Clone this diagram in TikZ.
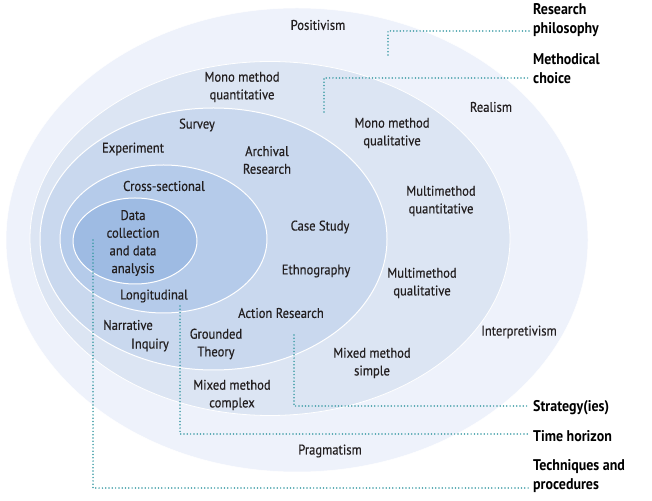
\documentclass[tikz,border=0pt]{standalone}
\usepackage{fontspec}
\setmainfont{PT Sans}[FakeStretch=0.9, UprightFeatures={FakeBold=0.4}]
\definecolor{c1}{HTML}{EEF2FB}
\definecolor{c2}{HTML}{DCE5F3}
\definecolor{c3}{HTML}{C9D8EE}
\definecolor{c4}{HTML}{B5CBEA}
\definecolor{c5}{HTML}{9EBBE3}
\definecolor{txt}{HTML}{231F20}
\definecolor{teal1}{HTML}{3C9CA5}
\begin{document}
\begin{tikzpicture}[x=1pt,y=1pt,
  lbl/.style={font=\fontsize{14}{17.7}\selectfont, text=txt, align=center, inner sep=0pt},
  head/.style={font=\fontsize{15.5}{18.5}\selectfont\bfseries, text=black, align=left, anchor=west, inner sep=0pt},
  dots/.style={draw=teal1, line width=1.7pt, line cap=round, dash pattern=on 0pt off 3.3pt},
  ring/.style={draw=white, line width=1pt}]
\useasboundingbox (0,0) rectangle (652,500);
% onion layers
\path[fill=c1, draw=white, line width=0.5pt] (297,260) ellipse [x radius=291, y radius=232];
\path[fill=c2, draw=white, line width=0.8pt] (270,261.5) ellipse [x radius=240, y radius=177];
\path[fill=c3, ring] (213.5,261) ellipse [x radius=173.5, y radius=131];
\path[fill=c4, ring] (163.5,261) ellipse [x radius=103.5, y radius=74];
\path[fill=c5, ring] (135,259) ellipse [x radius=62, y radius=43];
% ring labels
\node[lbl] (pos) at (318,475) {Positivism};
\node[lbl] (real) at (491,393) {Realism};
\node[lbl] (interp) at (519,168) {Interpretivism};
\node[lbl] (prag) at (330,49) {Pragmatism};
\node[lbl] (mmqn) at (242,413) {Mono method\\quantitative};
\node[lbl] (mmql) at (392,367) {Mono method\\qualitative};
\node[lbl] (mtqn) at (441,299) {Multimethod\\quantitative};
\node[lbl] (mtql) at (422,217) {Multimethod\\qualitative};
\node[lbl] (mxs) at (372,137) {Mixed method\\simple};
\node[lbl] (mxc) at (232,105) {Mixed method\\complex};
\node[lbl] (surv) at (197,375) {Survey};
\node[lbl] (exp) at (133,351) {Experiment};
\node[lbl] (arch) at (267,340) {Archival\\Research};
\node[lbl] (case) at (320,273) {Case Study};
\node[lbl] (eth) at (316,229) {Ethnography};
\node[lbl] (act) at (281,187) {Action Research};
\node[lbl] (narr) at (128,175) {Narrative};
\node[lbl] (inq) at (150,155) {Inquiry};
\node[lbl] (grd) at (216,156) {Grounded\\Theory};
\node[lbl] (cross) at (164,314) {Cross-sectional};
\node[lbl] (long) at (154,204) {Longitudinal};
\node[lbl] (data) at (133,257) {Data\\collection\\and data\\analysis};
% layer names
\node[head] (rp) at (533,480) {Research\\philosophy};
\node[head] (mc) at (533,431.5) {Methodical\\choice};
\node[head] (st) at (533,92) {Strategy(ies)};
\node[head] (th) at (533,64) {Time horizon};
\node[head] (tp) at (533,24) {Techniques and\\procedures};
% connectors
\coordinate (rpS) at (388,445); \coordinate (rpE) at (529,469);
\coordinate (mcS) at (324,388); \coordinate (mcE) at (529,422);
\coordinate (stS) at (294,165); \coordinate (stE) at (529,94);
\coordinate (thS) at (180,194); \coordinate (thE) at (529,66);
\coordinate (tpS) at (93,260);  \coordinate (tpE) at (529,12);
\draw[dots] (rpS) |- (rpE);
\draw[dots] (mcS) |- (mcE);
\draw[dots] (stS) |- (stE);
\draw[dots] (thS) |- (thE);
\draw[dots] (tpS) |- (tpE);
\end{tikzpicture}
\end{document}
